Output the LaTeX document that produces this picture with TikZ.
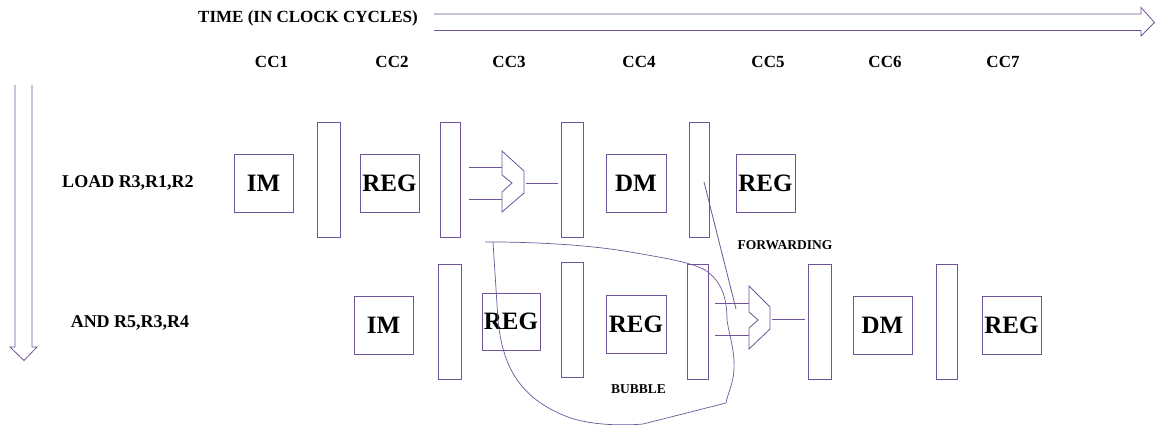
\documentclass[tikz,border=0pt]{standalone}
\usepackage{fontspec}
\setmainfont{Liberation Serif}
\definecolor{pl}{HTML}{6F5499}
\tikzset{
 x=1pt,y=-1pt,
 ln/.style={draw=pl,line width=0.8pt},
 bar/.style={ln,anchor=north west,inner sep=0pt,outer sep=0pt,minimum width=22pt,minimum height=115pt},
 unit/.style={ln,anchor=north west,inner sep=0pt,outer sep=0pt,minimum width=59pt,minimum height=58pt,text=black,font=\fontsize{25}{25}\bfseries\selectfont},
 lab/.style={inner sep=0pt,text=black,font=\fontsize{17}{18}\bfseries\selectfont},
 instr/.style={inner sep=0pt,text=black,font=\fontsize{18}{19}\bfseries\selectfont},
 small/.style={inner sep=0pt,text=black,font=\fontsize{13.5}{14}\bfseries\selectfont}
}
\begin{document}
\begin{tikzpicture}
\useasboundingbox (0,0) rectangle (1156,425);
% labels
\node[lab] (time) at (308,18) {TIME (IN CLOCK CYCLES)};
\node[lab] (c1) at (271.5,62) {CC1};
\node[lab] (c2) at (392,62) {CC2};
\node[lab] (c3) at (509,62) {CC3};
\node[lab] (c4) at (639,62) {CC4};
\node[lab] (c5) at (768,62) {CC5};
\node[lab] (c6) at (885,62) {CC6};
\node[lab] (c7) at (1003,62) {CC7};
\node[instr] (load) at (128,183) {LOAD R3,R1,R2};
\node[instr] (and) at (130,323) {AND R5,R3,R4};
\node[small] (fw) at (785,245) {FORWARDING};
\node[small] (bb) at (638.5,389.5) {BUBBLE};
% block arrows
\draw[ln] (434,14)--(1141,14)--(1141,7.5)--(1154.5,22.5)--(1141,36)--(1141,30.5)--(434,30.5);
\draw[ln] (15,85)--(15,347)--(10,347)--(24,360.5)--(37,347)--(32,347)--(32,85);
% row 1
\node[unit] (im1) at (234,154) {IM};
\node[bar,minimum width=23pt] (b11) at (317,122) {};
\node[unit] (reg1) at (360,154) {REG};
\node[bar,minimum width=20pt] (b12) at (440,122) {};
\node[bar] (b13) at (561,122) {};
\node[unit,minimum width=60pt] (dm1) at (606,154) {DM};
\node[bar,minimum width=20pt] (b14) at (689,122) {};
\node[unit] (reg2) at (736,154) {REG};
% row 2
\node[unit] (im2) at (354,296) {IM};
\node[bar,minimum width=23pt] (b21) at (438,264) {};
\node[unit,minimum height=57pt,minimum width=58pt] (reg3) at (482,293) {REG};
\node[bar] (b22) at (561,262) {};
\node[unit,minimum width=60pt] (reg4) at (606,295.5) {REG};
\node[bar,minimum width=21pt] (b23) at (687,264) {};
\node[bar,minimum width=23pt] (b24) at (808,264) {};
\node[unit] (dm2) at (853,296) {DM};
\node[bar,minimum width=21pt] (b25) at (936,264) {};
\node[unit] (reg5) at (982,296) {REG};
% ALU 1
\draw[ln] (502,151)--(524,171)--(524,193)--(502,212)--(502,192)--(512,183)--(502,175)--cycle;
\coordinate (a1i1) at (502,167); \coordinate (a1s1) at (469,167);
\coordinate (a1i2) at (502,199); \coordinate (a1s2) at (469,199);
\coordinate (a1o) at (526,183); \coordinate (a1e) at (558,183);
\draw[ln] (a1s1)--(a1i1); \draw[ln] (a1s2)--(a1i2); \draw[ln] (a1o)--(a1e);
% ALU 2
\draw[ln] (749,286)--(770,307)--(770,329)--(749,349)--(749,328)--(758,320)--(749,312)--cycle;
\coordinate (a2i1) at (749,303); \coordinate (a2s1) at (715,303);
\coordinate (a2i2) at (749,335); \coordinate (a2s2) at (715,335);
\coordinate (a2o) at (772,319); \coordinate (a2e) at (805,319);
\draw[ln] (a2s1)--(a2i1); \draw[ln] (a2s2)--(a2i2); \draw[ln] (a2o)--(a2e);
% forwarding
\coordinate (fs) at (704,182); \coordinate (fe) at (736,309);
\draw[ln] (fs)--(fe);
% bubble
\draw[ln,line width=0.7pt] (485,242)--(500,242)
 .. controls (540,242.5) and (590,245) .. (630,252)
 .. controls (665,258) and (690,262) .. (705,270)
 .. controls (720,280) and (727,295) .. (727,320)
 .. controls (729,335) and (735,350) .. (734,370)
 .. controls (733,385) and (727,395) .. (726,403)
 -- (643,424)
 .. controls (620,426) and (585,425) .. (563,415)
 .. controls (515,395) and (502,360) .. (498,320)
 -- (493,242);
\end{tikzpicture}
\end{document}
